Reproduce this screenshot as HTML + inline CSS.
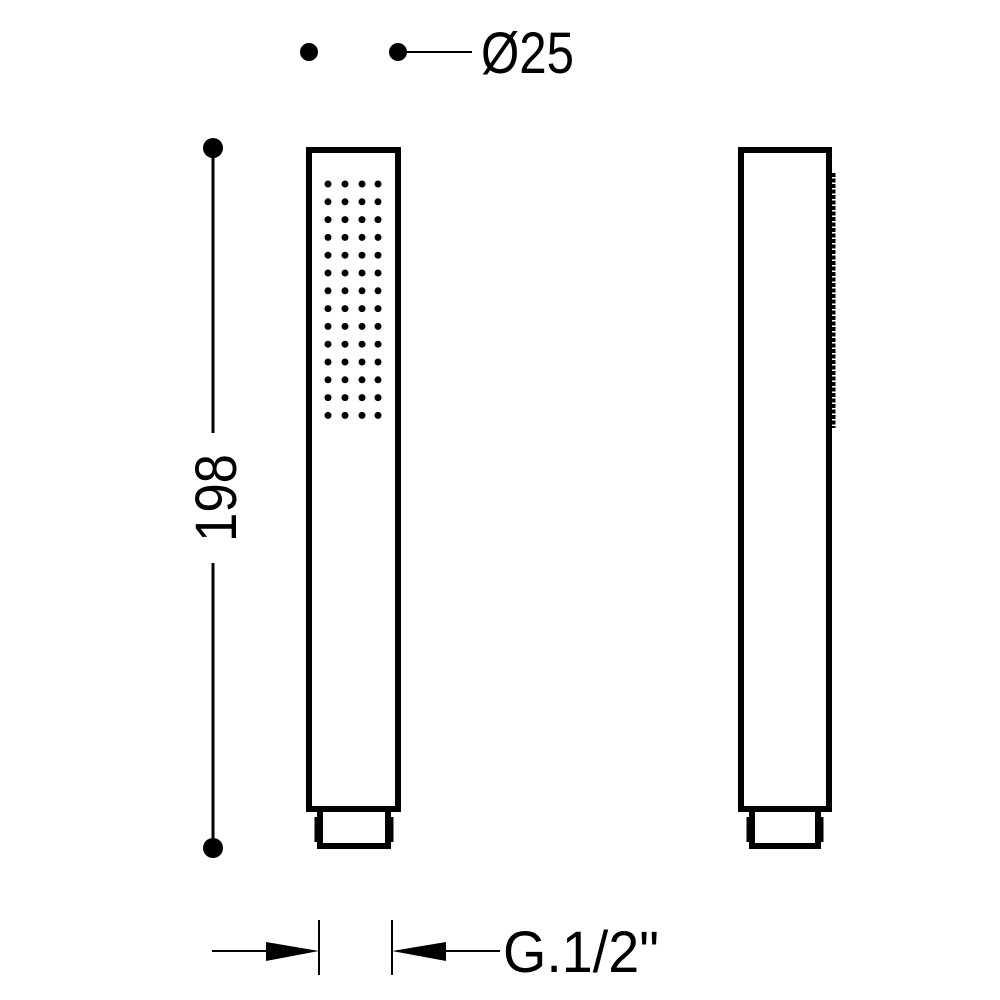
<!DOCTYPE html>
<html><head><style>html,body{margin:0;padding:0;background:#fff}svg{display:block}</style></head>
<body>
<svg width="1000" height="1000" viewBox="0 0 1000 1000" xmlns="http://www.w3.org/2000/svg">
<g fill="#000" stroke="none">
<circle cx="309" cy="52" r="9"/><circle cx="398" cy="52" r="9"/>
<circle cx="213" cy="148" r="10"/><circle cx="213" cy="848" r="10"/>
</g>
<g stroke="#000" fill="none">
<line x1="398" y1="52" x2="472" y2="52" stroke-width="2"/>
<line x1="213" y1="150" x2="213" y2="433" stroke-width="3"/>
<line x1="213" y1="563" x2="213" y2="846" stroke-width="3"/>
<rect x="309" y="150" width="89" height="659" stroke-width="6"/>
<path d="M320 809 V846 H388 V809" stroke-width="6"/>
<path d="M317 817 V842 M391 817 V842" stroke-width="5"/>
<rect x="741" y="150" width="88" height="659" stroke-width="6"/>
<path d="M752 809 V846 H818 V809" stroke-width="6"/>
<path d="M749 817 V842 M821 817 V842" stroke-width="5"/>
<line x1="833" y1="173" x2="833" y2="428" stroke-width="5" stroke-dasharray="4,1.5"/>
<line x1="212" y1="951" x2="270" y2="951" stroke-width="2"/>
<line x1="319" y1="920" x2="319" y2="975" stroke-width="2"/>
<line x1="392" y1="920" x2="392" y2="975" stroke-width="2"/>
<line x1="445" y1="951" x2="500" y2="951" stroke-width="2"/>
</g>
<g fill="#000">
<polygon points="266,942 319,951 266,961"/>
<polygon points="446,942 392,951 446,961"/>
</g>
<g fill="#000">
<g id="row">
<circle cx="328" cy="184" r="3.5"/><circle cx="345" cy="184" r="3.5"/><circle cx="362" cy="184" r="3.5"/><circle cx="378" cy="184" r="3.5"/>
</g>
<use href="#row" y="17.8"/><use href="#row" y="35.6"/><use href="#row" y="53.4"/><use href="#row" y="71.2"/>
<use href="#row" y="89"/><use href="#row" y="106.8"/><use href="#row" y="124.6"/><use href="#row" y="142.4"/>
<use href="#row" y="160.2"/><use href="#row" y="178"/><use href="#row" y="195.8"/><use href="#row" y="213.6"/><use href="#row" y="231.4"/>
</g>
<g font-family="Liberation Sans, sans-serif" font-size="58" fill="#000">
<text x="481" y="73" textLength="93" lengthAdjust="spacingAndGlyphs">Ø25</text>
<text x="503" y="972" textLength="156" lengthAdjust="spacingAndGlyphs">G.1/2"</text>
<text transform="translate(236,542) rotate(-90)" textLength="88" lengthAdjust="spacingAndGlyphs">198</text>
</g>
</svg>
</body></html>
